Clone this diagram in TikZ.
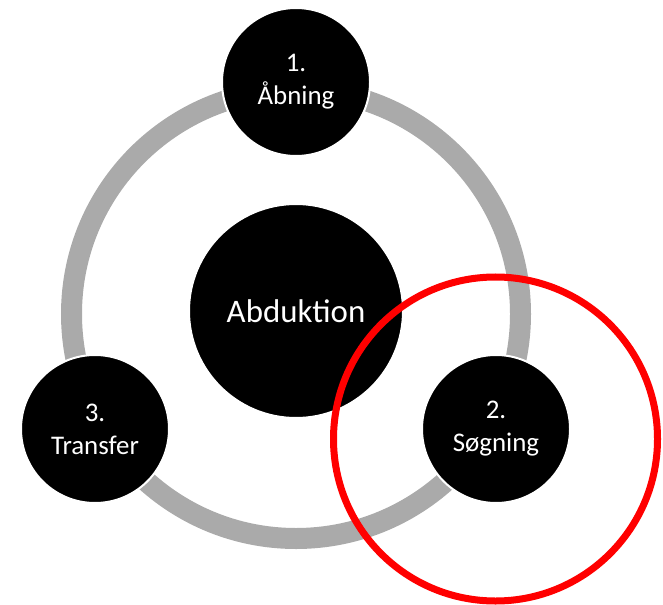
\documentclass[tikz,border=0pt]{standalone}
\usepackage{fontspec}
\setmainfont{Carlito}
\definecolor{ringgray}{RGB}{170,170,170}
\definecolor{markred}{RGB}{255,0,0}
\tikzset{
  stage/.style={circle, fill=black, draw=white, line width=2bp, minimum size=148bp,
    inner sep=0pt, text=white, align=center, font=\fontsize{27}{33}\selectfont},
  hub/.style={circle, fill=black, draw=white, line width=2bp, minimum size=214bp,
    inner sep=0pt, text=white, align=center, font=\fontsize{33}{40}\selectfont},
  ringline/.style={draw=ringgray, line width=21bp},
  redmark/.style={circle, draw=markred, line width=7bp, minimum size=324bp, inner sep=0pt}
}
\begin{document}
\begin{tikzpicture}[x=1bp,y=-1bp]
  \useasboundingbox (0,0) rectangle (663,605);
  \coordinate (rc) at (296,314);
  \draw[ringline] (rc) circle[radius=224.5bp];
  \node[hub] (hub) at (296,311) {Abduktion};
  \node[stage] (s1) at (296,82) {1.\\Åbning};
  \node[stage] (s2) at (496,429) {2.\\Søgning};
  \node[stage] (s3) at (95,429) {3.\\Transfer};
  \node[redmark] (m) at (495.5,439) {};
\end{tikzpicture}
\end{document}
